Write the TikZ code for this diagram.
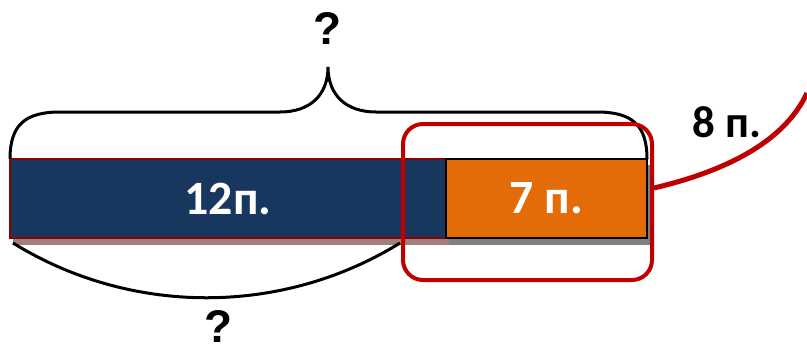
\documentclass[tikz,border=0pt]{standalone}
\usepackage{fontspec}
\setmainfont{Carlito}
\newfontfamily\qfont{Liberation Sans}
\usetikzlibrary{positioning}
\definecolor{barblue}{HTML}{17375E}
\definecolor{barorange}{HTML}{E36C09}
\definecolor{markred}{HTML}{C00000}
\definecolor{edgered}{HTML}{8B0000}
\definecolor{shadowred}{HTML}{A27F7F}
\definecolor{shadowgray}{HTML}{7F7F7F}

\begin{document}
\begin{tikzpicture}[x=1bp,y=-1bp,
      part/.style={
         rectangle,
         minimum height=79bp,
         inner sep=0pt,
         outer sep=0pt,
         text=white,
         font=\fontsize{48}{52}\selectfont\bfseries
      },
      bluepart/.style={
         part,
         minimum width=436bp,
         fill=barblue,
         draw=edgered,
         line width=2bp
      },
      orangepart/.style={
         part,
         minimum width=201bp,
         fill=barorange,
         draw=black,
         line width=2.5bp
      },
      selbox/.style={
         rectangle,
         rounded corners=20bp,
         minimum width=249bp,
         minimum height=156bp,
         draw=markred,
         line width=4bp
      },
      question/.style={inner sep=0pt,font=\qfont\fontsize{46}{50}\selectfont\bfseries},
      amount/.style={font=\fontsize{45}{48}\selectfont\bfseries},
      brace/.style={draw=black,line width=3bp},
      markline/.style={draw=markred,line width=5bp}
    ]
    \useasboundingbox (0,0) rectangle (807,352);
    % shadows under the bar
    \fill[shadowred] (13,165) rectangle (449,245);
    \fill[shadowgray] (449,165) rectangle (650,245);
    \node (blue) [bluepart] at (228,198.5) {12п.};
    \node (orange) [orangepart, right=0pt of blue] {7 п.};
    \draw[brace] (blue.north west) .. controls (10,125) and (25,112) .. (60,112)
       -- (280,112) .. controls (310,112) and (328,95) .. (328,67)
       .. controls (328,95) and (346,112) .. (376,112)
       -- (597,112) .. controls (632,112) and (647,125) .. (orange.north east);
    \node (qtop) [question] at (327,28) {?};
    \coordinate (arcend) at (400,243);
    \draw[brace] ([shift={(3bp,-5bp)}]blue.south west) .. controls (131,316) and (282,316) .. (arcend);
    \node (qbot) [question] at (218,326) {?};
    \node (sel) [selbox] at (527.5,202) {};
    \coordinate (tail) at (807,93);
    \draw[markline] ([yshift=14bp]sel.east) .. controls (730,170) and (785,140) .. (tail);
    \node (eight) [amount] at (727,122) {8 п.};
\end{tikzpicture}
\end{document}
